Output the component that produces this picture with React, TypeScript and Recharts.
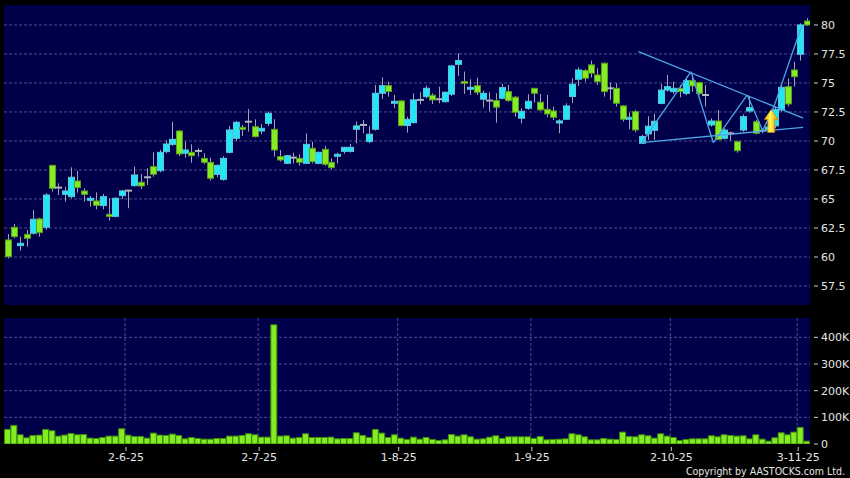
import React from "react";
import { ComposedChart, Bar, XAxis, YAxis, CartesianGrid, ReferenceLine, ReferenceDot } from "recharts";

// daily candles, index 0 = first session shown
const opens = [
  61.47, 62.56, 60.98, 61.95, 62.04, 63.28, 62.56, 67.9, 65.98, 65.4,
  65.2, 66.55, 65.69, 64.88, 64.83, 64.43, 63.68, 63.5, 65.29, 65.72,
  66.15, 66.44, 66.87, 67.79, 67.44, 69.08, 69.71, 70.86, 68.94, 69.02,
  69.14, 68.5, 68.16, 67.12, 66.69, 69.02, 70.23, 71.18, 71.66, 71.23,
  70.86, 71.52, 71.0, 68.65, 68.07, 68.56, 68.5, 68.07, 69.37, 68.07,
  69.28, 68.16, 68.68, 69.1, 69.1, 71.01, 71.38, 69.95, 71.01, 74.11,
  74.77, 73.25, 73.45, 71.33, 71.58, 73.54, 73.82, 73.94, 73.6, 73.39,
  74.03, 76.61, 75.12, 74.46, 74.77, 73.6, 73.48, 73.48, 73.68, 74.26,
  73.77, 71.96, 72.82, 74.54, 73.34, 72.73, 72.59, 71.55, 71.87, 73.83,
  75.32, 76.07, 76.56, 75.69, 76.7, 74.54, 74.54, 73.02, 71.87, 72.53,
  69.8, 70.61, 70.92, 73.24, 74.39, 74.25, 74.54, 74.1, 75.2, 75.03,
  73.96, 71.38, 71.72, 70.23, 70.66, 69.94, 70.94, 72.58, 71.66, 70.89,
  70.95, 71.3, 72.67, 74.68, 76.12, 77.47, 80.34,
];
const highs = [
  61.98, 62.85, 61.75, 62.33, 64.05, 63.39, 65.49, 67.9, 66.35, 66.06,
  67.73, 67.41, 65.92, 65.26, 65.57, 65.43, 65.06, 65.14, 65.78, 65.78,
  67.79, 67.16, 67.64, 69.02, 69.22, 70.03, 71.66, 70.95, 69.94, 69.71,
  69.37, 68.93, 68.56, 67.96, 68.68, 71.29, 71.72, 71.38, 72.76, 71.87,
  71.46, 72.53, 71.87, 69.22, 68.79, 68.99, 68.85, 70.66, 69.94, 69.08,
  69.57, 68.5, 68.99, 69.5, 69.75, 71.67, 71.81, 71.3, 74.83, 75.49,
  75.12, 73.97, 73.54, 72.1, 74.11, 74.2, 74.77, 74.11, 74.68, 74.26,
  76.56, 77.56, 75.98, 75.32, 75.46, 74.34, 74.2, 74.11, 74.92, 74.83,
  73.88, 72.82, 74.03, 74.54, 74.06, 73.97, 72.96, 71.87, 73.25, 75.41,
  76.35, 76.18, 76.93, 76.27, 76.76, 75.03, 74.97, 73.1, 72.45, 72.68,
  70.52, 72.13, 72.35, 74.91, 75.69, 75.11, 74.82, 75.54, 75.69, 75.11,
  74.82, 71.95, 72.67, 71.09, 70.8, 70.03, 72.3, 73.88, 71.81, 71.09,
  71.4, 73.0, 74.82, 75.4, 76.83, 80.14, 80.57,
];
const lows = [
  59.88, 61.61, 60.55, 60.89, 61.95, 61.75, 62.33, 65.63, 65.34, 64.77,
  65.06, 65.55, 64.77, 64.34, 64.11, 64.11, 63.13, 63.42, 65.0, 64.2,
  66.06, 65.86, 66.2, 66.92, 67.3, 68.94, 69.57, 68.7, 68.56, 68.13,
  68.65, 68.01, 66.58, 66.87, 66.58, 68.94, 69.99, 70.43, 70.8, 70.31,
  70.6, 71.29, 68.65, 68.22, 68.01, 68.07, 67.87, 68.01, 68.07, 67.99,
  67.87, 67.56, 68.07, 68.9, 69.0, 69.8, 70.66, 69.8, 70.9, 73.62,
  73.82, 72.82, 71.24, 70.72, 71.52, 73.16, 73.68, 73.19, 73.25, 73.31,
  73.88, 75.61, 74.06, 73.97, 73.97, 72.88, 72.53, 71.58, 73.6, 73.39,
  72.1, 71.52, 72.68, 73.31, 72.59, 72.04, 71.81, 70.66, 71.81, 73.25,
  74.74, 75.12, 75.46, 74.83, 73.82, 73.54, 72.96, 71.67, 71.01, 70.75,
  69.74, 70.09, 70.09, 73.16, 74.25, 74.05, 73.76, 73.96, 74.25, 73.96,
  72.96, 71.23, 70.08, 70.14, 70.03, 68.99, 70.8, 72.44, 70.57, 70.66,
  70.85, 71.1, 72.53, 72.96, 74.68, 76.92, 79.91,
];
const closes = [
  60.03, 61.75, 61.18, 61.61, 63.25, 62.1, 65.34, 65.92, 65.98, 65.69,
  66.87, 65.98, 65.4, 65.06, 64.45, 65.2, 63.5, 65.06, 65.69, 65.72,
  67.07, 66.12, 66.87, 67.13, 69.02, 69.74, 70.14, 68.88, 69.22, 68.73,
  69.14, 68.16, 66.78, 67.9, 68.5, 70.95, 71.61, 71.0, 71.66, 70.37,
  71.09, 72.38, 69.22, 68.36, 68.73, 68.56, 68.16, 69.71, 68.22, 69.02,
  67.99, 67.7, 68.85, 69.45, 69.45, 71.3, 71.38, 70.58, 74.11, 74.77,
  74.26, 73.42, 71.33, 71.87, 73.54, 73.54, 74.54, 73.54, 73.6, 74.2,
  76.47, 76.93, 74.97, 74.63, 74.2, 74.11, 73.48, 72.91, 74.6, 73.48,
  72.47, 72.56, 73.42, 74.11, 72.68, 72.33, 72.04, 71.73, 73.02, 74.89,
  76.12, 75.41, 75.84, 75.12, 74.26, 74.54, 73.25, 71.87, 72.04, 70.95,
  70.38, 71.27, 71.7, 74.39, 74.68, 74.54, 74.25, 75.2, 74.74, 74.1,
  73.96, 71.72, 70.14, 70.94, 70.66, 69.16, 72.1, 72.87, 70.66, 70.89,
  71.2, 72.7, 74.62, 73.19, 75.54, 80.0, 80.0,
];
// volume in thousands of shares
const volumeK = [
  54.7, 69.8, 34.6, 23.3, 32.1, 33.3, 54.7, 49.7, 29.6, 33.3,
  39.6, 34.6, 35.8, 22.0, 20.8, 24.5, 29.6, 29.6, 57.2, 33.3,
  28.3, 28.3, 22.0, 40.9, 33.3, 32.1, 37.1, 32.1, 19.5, 24.5,
  20.8, 18.2, 18.2, 20.8, 20.8, 29.6, 29.6, 32.1, 38.4, 34.6,
  25.8, 25.8, 447, 29.6, 30.8, 22.0, 24.5, 38.4, 24.5, 24.5,
  24.5, 25.8, 19.5, 20.8, 20.8, 42.1, 32.1, 24.5, 54.7, 40.9,
  24.5, 34.6, 22.0, 17.0, 25.8, 18.2, 24.5, 17.0, 13.2, 15.7,
  35.8, 29.6, 34.6, 27.0, 18.2, 19.5, 25.8, 30.8, 20.8, 27.0,
  27.0, 27.0, 27.0, 20.8, 28.3, 15.7, 17.0, 18.2, 19.5, 38.4,
  34.6, 27.0, 15.7, 15.7, 20.8, 18.2, 17.0, 44.7, 28.3, 27.0,
  34.6, 30.8, 22.0, 38.4, 29.6, 24.5, 13.2, 17.0, 19.5, 19.5,
  19.5, 30.8, 27.0, 34.6, 32.1, 29.6, 30.8, 19.5, 34.6, 18.2,
  10.7, 23.3, 42.1, 34.6, 44.7, 62.3, 10.7,
];

const dateTicks = [18.5, 39.5, 61.5, 82.5, 104.5, 124.5];
const dateLabels = ["2-6-25", "2-7-25", "1-8-25", "1-9-25", "2-10-25", "3-11-25"];
const priceTicks = [57.5, 60, 62.5, 65, 67.5, 70, 72.5, 75, 77.5, 80];
const volumeTicks = [0, 100, 200, 300, 400];
const volumeGrid = [100, 200, 300, 400];

// pattern drawing (index, price)
const upperTrend = [{ x: 99.46, y: 77.7 }, { x: 125.45, y: 71.96 }];
const lowerTrend = [{ x: 100, y: 69.85 }, { x: 125.45, y: 71.18 }];
const zigzag = [
  { x: 100, y: 69.85 },
  { x: 107.76, y: 75.97 },
  { x: 111.28, y: 69.85 },
  { x: 116.63, y: 73.97 },
  { x: 119.06, y: 70.89 },
  { x: 120.83, y: 72.96 },
  { x: 125.2, y: 79.91 },
];
const signal = { x: 120.4, y: 71.68 };

const candles = opens.map((o, i) => ({
  i,
  o,
  h: highs[i],
  l: lows[i],
  c: closes[i],
  vol: volumeK[i],
}));

const NAVY = "#00004a";
const GRID = "#4c4c8e";
const TEXT = "#e4e4e4";
const CYAN = "#22e6f6";
const LIME = "#84ec22";
const TREND = "#4aa6e6";
const FONT = "'DejaVu Sans', Verdana, sans-serif";
const xDomain = [-0.58, 126.52];

function Candle(props: any) {
  const { x, y, width, height, payload } = props;
  if (!payload) return null;
  const { o, h, l, c } = payload;
  const top = Math.min(y, y + height);
  const span = Math.abs(height);
  const k = h > l ? span / (h - l) : 0;
  const cx = Math.round(x + width / 2);
  const yOf = (v: number) => top + (h - v) * k;
  const bTop = yOf(Math.max(o, c));
  const bBot = yOf(Math.min(o, c));
  const wick = <line x1={cx + 0.5} x2={cx + 0.5} y1={top} y2={top + span} stroke="#a2a2b0" />;
  if (Math.abs(c - o) < 0.05) {
    return (
      <g>
        {wick}
        <line x1={cx - 3} x2={cx + 4} y1={bTop} y2={bTop} stroke="#b4b4bc" strokeWidth={2} />
      </g>
    );
  }
  const up = c > o;
  return (
    <g>
      {wick}
      <rect
        x={cx - 2.5}
        y={bTop}
        width={6}
        height={Math.max(bBot - bTop, 1.5)}
        fill={up ? CYAN : LIME}
        stroke={up ? "#5cc4dc" : "#5c9c1c"}
      />
    </g>
  );
}

function SignalArrow({ cx, cy }: any) {
  if (cx == null || cy == null) return null;
  const d = `M ${cx} ${cy - 12} L ${cx + 7} ${cy - 2} L ${cx + 3.5} ${cy - 2} L ${cx + 3.5} ${cy + 11} L ${cx - 3.5} ${cy + 11} L ${cx - 3.5} ${cy - 2} L ${cx - 7} ${cy - 2} Z`;
  return (
    <g>
      <defs>
        <linearGradient id="arrowGrad" x1="0" x2="1" y1="0" y2="0">
          <stop offset="0%" stopColor="#f0b000" />
          <stop offset="45%" stopColor="#fff45a" />
          <stop offset="100%" stopColor="#e09000" />
        </linearGradient>
      </defs>
      <path d={d} fill="url(#arrowGrad)" stroke="#c88a00" strokeWidth={0.6} />
    </g>
  );
}

function RightTick(props: any) {
  const { x, y, payload, fmt } = props;
  return (
    <g>
      <line x1={x + 4} x2={x + 8} y1={y} y2={y} stroke="#cfcfcf" />
      <text x={x + 11} y={y} dy="0.36em" fill={TEXT} fontSize={11} fontFamily={FONT}>
        {fmt(payload.value)}
      </text>
    </g>
  );
}

function DateTick(props: any) {
  const { x, y, payload } = props;
  const idx = dateTicks.indexOf(payload.value);
  return (
    <g>
      <line x1={x + 1} x2={x + 1} y1={y + 3} y2={y + 7} stroke="#cfcfcf" />
      <text x={x + 1} y={y + 17} textAnchor="middle" fill={TEXT} fontSize={11} fontFamily={FONT}>
        {dateLabels[idx] ?? ""}
      </text>
    </g>
  );
}

const fmtPrice = (v: number) => String(v);
const fmtVol = (v: number) => (v === 0 ? "0" : `${v}K`);

export default function App() {
  return (
    <div style={{ position: "absolute", left: 0, top: 0, width: 850, height: 478, background: "#000", overflow: "hidden" }}>
      <div style={{ position: "absolute", left: 0, top: 0 }}>
        <ComposedChart width={850} height={310} data={candles} margin={{ top: 5, right: 0, bottom: 5, left: 4 }}>
          <CartesianGrid fill={NAVY} fillOpacity={1} stroke="none" horizontal={false} vertical={false} />
          <CartesianGrid
            fill="none"
            stroke={GRID}
            strokeDasharray="3 2"
            horizontalValues={priceTicks}
            verticalValues={dateTicks}
          />
          <XAxis
            dataKey="i"
            type="number"
            domain={xDomain}
            ticks={dateTicks}
            allowDataOverflow
            tick={false}
            tickLine={false}
            axisLine={false}
            height={0}
          />
          <YAxis
            orientation="right"
            width={40}
            type="number"
            domain={[55.86, 81.72]}
            ticks={priceTicks}
            allowDataOverflow
            axisLine={false}
            tickLine={false}
            tickSize={0}
            tickMargin={0}
            tick={(p: any) => <RightTick {...p} fmt={fmtPrice} />}
          />
          <Bar dataKey={(d: any) => [d.l, d.h]} barSize={6} shape={(p: any) => <Candle {...p} />} isAnimationActive={false} />
          <ReferenceLine segment={upperTrend} stroke={TREND} strokeWidth={1.3} />
          <ReferenceLine segment={lowerTrend} stroke={TREND} strokeWidth={1.3} />
          {zigzag.slice(1).map((pt, k) => (
            <ReferenceLine key={k} segment={[zigzag[k], pt]} stroke={TREND} strokeWidth={1.3} />
          ))}
          <ReferenceDot x={signal.x} y={signal.y} r={0} shape={(p: any) => <SignalArrow {...p} />} />
        </ComposedChart>
      </div>
      <div style={{ position: "absolute", left: 0, top: 310 }}>
        <ComposedChart width={850} height={168} data={candles} margin={{ top: 8, right: 0, bottom: 0, left: 4 }}>
          <CartesianGrid fill={NAVY} fillOpacity={1} stroke="none" horizontal={false} vertical={false} />
          <CartesianGrid
            fill="none"
            stroke={GRID}
            strokeDasharray="3 2"
            horizontalValues={volumeGrid}
            verticalValues={dateTicks}
          />
          <XAxis
            dataKey="i"
            type="number"
            domain={xDomain}
            ticks={dateTicks}
            allowDataOverflow
            axisLine={false}
            tickLine={false}
            tickSize={0}
            tickMargin={0}
            height={34}
            tick={(p: any) => <DateTick {...p} />}
          />
          <YAxis
            orientation="right"
            width={40}
            type="number"
            domain={[0, 472.5]}
            ticks={volumeTicks}
            allowDataOverflow
            axisLine={false}
            tickLine={false}
            tickSize={0}
            tickMargin={0}
            tick={(p: any) => <RightTick {...p} fmt={fmtVol} />}
          />
          <Bar dataKey="vol" barSize={6} fill={LIME} stroke="#3e8a0c" strokeWidth={1} isAnimationActive={false} />
        </ComposedChart>
      </div>
      <svg width={850} height={478} style={{ position: "absolute", left: 0, top: 0, pointerEvents: "none" }}>
        <text
          x={845}
          y={474.5}
          textAnchor="end"
          fill={TEXT}
          fontSize={10.5}
          fontFamily="'DejaVu Sans Condensed', 'Liberation Sans', sans-serif"
        >
          Copyright by AASTOCKS.com Ltd.
        </text>
      </svg>
    </div>
  );
}
